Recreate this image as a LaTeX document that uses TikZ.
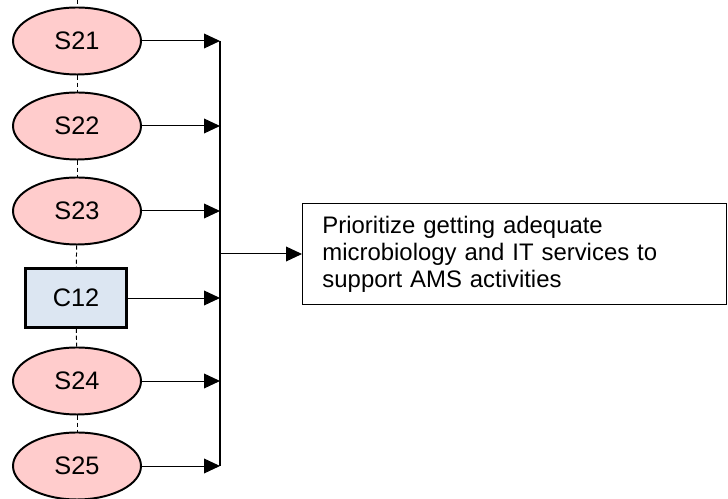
\documentclass[tikz,border=0pt]{standalone}
\usepackage{fontspec}
\setmainfont{Liberation Sans}
\usetikzlibrary{shapes.geometric,arrows.meta}
\definecolor{cbox}{RGB}{220,230,242}

\begin{document}
\begin{tikzpicture}[
  strat/.style={ellipse, draw, line width=1.4pt, fill=red!20, minimum width=3.2cm,
    minimum height=1.675cm, inner sep=0pt, font=\fontsize{18}{20}\selectfont},
  cond/.style={rectangle, draw=black, line width=1.7pt, fill=cbox, minimum width=2.525cm,
    minimum height=1.475cm, inner sep=0pt, font=\fontsize{18}{20}\selectfont},
  goal/.style={rectangle, draw, line width=0.7pt, text width=9.6cm, inner xsep=0.5cm,
    minimum height=2.5cm, align=left, font=\fontsize{17}{19.2}\selectfont},
  link/.style={line width=0.7pt, densely dashed},
  feed/.style={line width=0.7pt, -{Triangle[length=0.4cm,width=0.37cm]}}
]
  \useasboundingbox (0,0) rectangle (18.2,12.475);
  % стратегии и условие
  \coordinate (top) at (1.925,12.475);
  \node[strat] (s21) at (1.925,11.45) {S21};
  \node[strat] (s22) at (1.925,9.325) {S22};
  \node[strat] (s23) at (1.925,7.2) {S23};
  \node[cond] (c12) at (1.9,5.025) {C12};
  \node[strat] (s24) at (1.925,2.95) {S24};
  \node[strat] (s25) at (1.925,0.825) {S25};
  % пунктирная связь
  \draw[link] (top) -- (s21);
  \draw[link] (s21) -- (s22);
  \draw[link] (s22) -- (s23);
  \draw[link] (s23) -- (c12);
  \draw[link] (c12) -- (s24);
  \draw[link] (s24) -- (s25);
  % сборная линия
  \coordinate (bus top) at (5.5,11.45);
  \coordinate (bus bot) at (5.5,0.825);
  \coordinate (bus mid) at (5.5,6.125);
  \draw[line width=0.8pt] (bus top) -- (bus bot);
  \foreach \n in {s21,s22,s23,c12,s24,s25}
    \draw[feed] (\n.east) -- (\n.east -| bus top);
  % цель
  \node[goal, anchor=west] (goal) at (7.55,6.125)
    {Prioritize getting adequate\\microbiology and IT services to\\support AMS activities};
  \draw[feed] (bus mid) -- (goal);
\end{tikzpicture}
\end{document}
